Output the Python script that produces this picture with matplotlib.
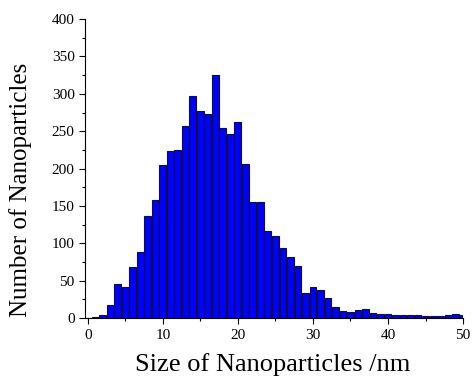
import matplotlib
matplotlib.use("Agg")
import matplotlib.pyplot as plt
from matplotlib.ticker import MultipleLocator

# particle size bins (nm), one bar per integer size
sizes = list(range(0, 51))
counts = [0, 1, 4, 18, 45, 42, 69, 89, 136, 158,
          205, 224, 225, 257, 297, 277, 273, 325, 254, 246,
          262, 206, 155, 155, 116, 110, 94, 82, 70, 34,
          42, 38, 27, 15, 10, 8, 11, 12, 7, 5,
          5, 4, 4, 4, 4, 3, 3, 3, 4, 5, 4]

plt.rcParams["font.family"] = ["Liberation Serif", "DejaVu Serif"]

fig = plt.figure(figsize=(4.73, 3.81), dpi=100)
ax = fig.add_axes([0.18, 0.165, 0.799, 0.785])

ax.bar(sizes, counts, width=0.92, color="#0000ff", edgecolor="#101030", linewidth=0.8)

ax.set_xlim(-0.36, 50)
ax.set_ylim(0, 400)
ax.xaxis.set_major_locator(MultipleLocator(10))
ax.xaxis.set_minor_locator(MultipleLocator(5))
ax.yaxis.set_major_locator(MultipleLocator(50))
ax.yaxis.set_minor_locator(MultipleLocator(25))
ax.tick_params(which="major", direction="out", length=4, width=0.8, labelsize=11)
ax.tick_params(which="minor", direction="out", length=2.5, width=0.8)

ax.spines["top"].set_visible(False)
ax.spines["right"].set_visible(False)

ax.set_xlabel("Size of Nanoparticles /nm", fontsize=19)
ax.set_ylabel("Number of Nanoparticles", fontsize=18)
# put the axis labels where the original has them
ax.xaxis.set_label_coords(0.497, -0.115)
ax.yaxis.set_label_coords(-0.14, 0.43)

fig.savefig("out.png", dpi=100, facecolor="white")
